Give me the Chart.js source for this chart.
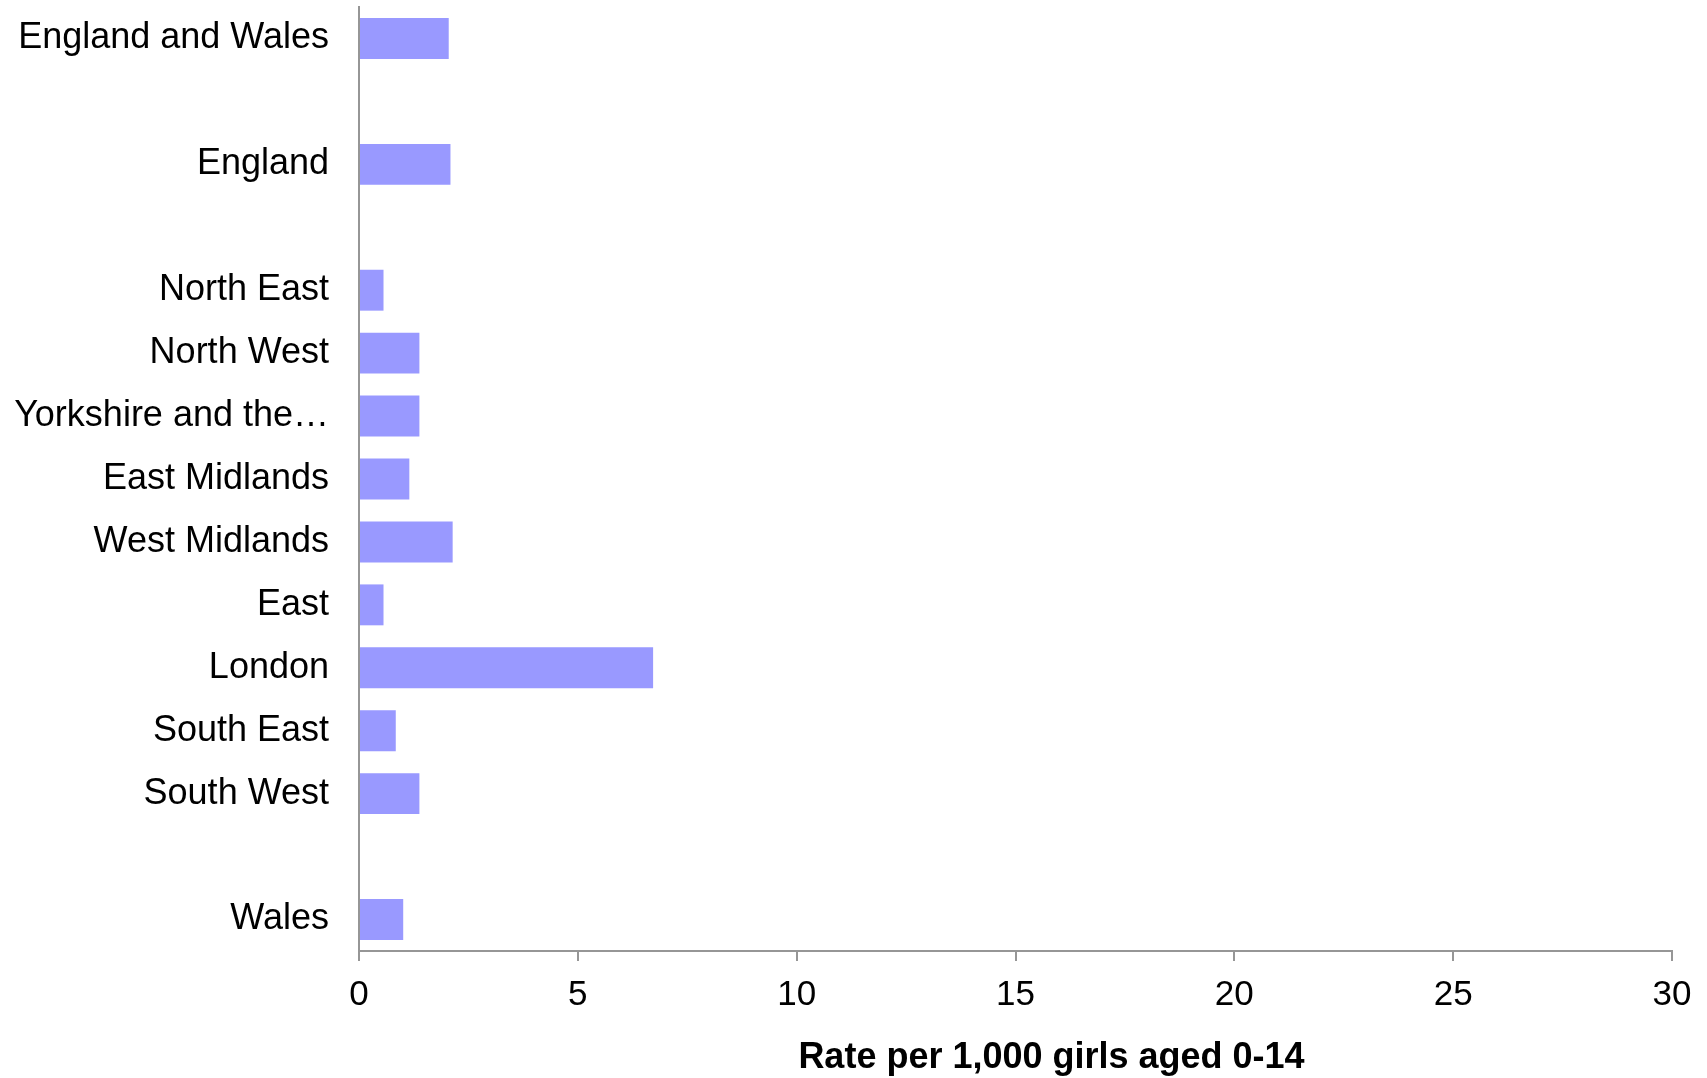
<!DOCTYPE html>
<html>
<head>
<meta charset="utf-8">
<title>Rate per 1,000 girls aged 0-14</title>
<script src="https://cdn.jsdelivr.net/npm/chart.js@4/dist/chart.umd.min.js"></script>
<style>
  html, body { margin: 0; padding: 0; background: #ffffff; }
  #wrap { width: 1707px; height: 1078px; }
</style>
</head>
<body>
<div id="wrap"><canvas id="chart" width="1707" height="1078"></canvas></div>
<script>
// Regions (blank entries keep the spacing between the groups)
const regions = [
  'England and Wales', '', 'England', '',
  'North East', 'North West', 'Yorkshire and the\u2026', 'East Midlands',
  'West Midlands', 'East', 'London', 'South East', 'South West', '', 'Wales'
];
// Rate per 1,000 girls aged 0-14
const rates = [
  2.05, null, 2.09, null,
  0.56, 1.38, 1.38, 1.15,
  2.14, 0.56, 6.72, 0.84, 1.38, null, 1.01
];
const rateTicks = [0, 5, 10, 15, 20, 25, 30];
const axisTitle = 'Rate per 1,000 girls aged 0-14';

const FONT = "'Liberation Sans', Arial, sans-serif";
const AXIS_GREY = '#969696';

// Axis title sits a little right of the plot centre, below the tick labels
const axisTitlePlugin = {
  id: 'axisTitle',
  afterDraw(chart) {
    const x = chart.scales.x;
    const ctx = chart.ctx;
    ctx.save();
    ctx.font = 'bold 36px ' + FONT;
    ctx.fillStyle = '#000000';
    ctx.textAlign = 'center';
    ctx.textBaseline = 'middle';
    ctx.fillText(axisTitle, (x.left + x.right) / 2 + 36, x.bottom + 45);
    ctx.restore();
  }
};

new Chart(document.getElementById('chart'), {
  type: 'bar',
  data: {
    labels: regions,
    datasets: [{
      data: rates,
      backgroundColor: '#9999ff',
      borderWidth: 0,
      barPercentage: 0.65,
      categoryPercentage: 1.0
    }]
  },
  options: {
    indexAxis: 'y',
    responsive: false,
    animation: false,
    devicePixelRatio: 1,
    layout: { padding: { top: 7, right: 35, bottom: 65, left: 0 } },
    plugins: {
      legend: { display: false },
      tooltip: { enabled: false }
    },
    scales: {
      x: {
        type: 'linear',
        min: 0,
        max: 30,
        afterBuildTicks(scale) {
          scale.ticks = rateTicks.map(v => ({ value: v }));
        },
        afterFit(scale) { scale.height = 62; },
        grid: {
          drawOnChartArea: false,
          drawTicks: true,
          tickLength: 10,
          color: AXIS_GREY,
          lineWidth: 2
        },
        border: { display: true, color: AXIS_GREY, width: 2 },
        ticks: {
          color: '#000000',
          padding: 13,
          maxRotation: 0,
          font: { family: FONT, size: 35 }
        }
      },
      y: {
        type: 'category',
        afterFit(scale) {
          scale.width = 359;
          scale.paddingTop = 0;
          scale.paddingBottom = 0;
        },
        grid: { display: true, drawOnChartArea: false, drawTicks: false, color: AXIS_GREY },
        border: { display: true, color: AXIS_GREY, width: 2 },
        ticks: {
          color: '#000000',
          padding: 30,
          autoSkip: false,
          font: { family: FONT, size: 36 }
        }
      }
    }
  },
  plugins: [axisTitlePlugin]
});
</script>
</body>
</html>
